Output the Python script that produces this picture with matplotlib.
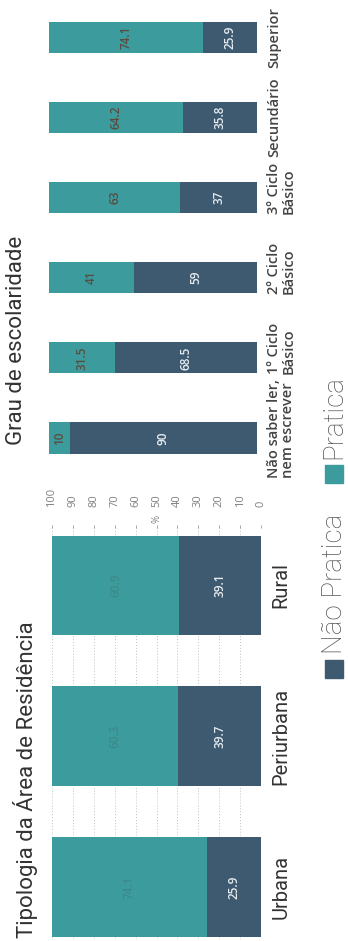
import matplotlib
matplotlib.use("Agg")
import matplotlib.pyplot as plt
from matplotlib.patches import Rectangle

plt.rcParams['font.family'] = ['Open Sans', 'DejaVu Sans']

# Residence area typology
area_labels = ["Urbana", "Periurbana", "Rural"]
area_nao = [25.9, 39.7, 39.1]
area_pratica = [74.1, 60.3, 60.9]

# Education level
edu_labels = ["Não saber ler,\nnem escrever", "1º Ciclo\nBásico", "2º Ciclo\nBásico",
              "3º Ciclo\nBásico", "Secundário", "Superior"]
edu_nao = [90, 68.5, 59, 37, 35.8, 25.9]
edu_pratica = [10, 31.5, 41, 63, 64.2, 74.1]

pct_ticks = [0, 10, 20, 30, 40, 50, 60, 70, 80, 90, 100]

C_NAO = "#3e5a70"
C_PRA = "#3c9c9d"
ROBOTO = ['Roboto', 'DejaVu Sans']

W, H = 348, 941
fig = plt.figure(figsize=(W / 100, H / 100), dpi=100)
fig.patch.set_facecolor("white")


def fx(px):
    return px / W


def fy(py):
    return 1 - py / H


def fmt(v):
    return f"{v:g}"


# ---- Tipologia da Área de Residência ----
ax1 = fig.add_axes([fx(52), fy(940), fx(261) - fx(52), fy(528) - fy(940)])
y1 = list(range(len(area_labels)))
ax1.barh(y1, area_nao, height=0.66, color=C_NAO, zorder=3)
ax1.barh(y1, area_pratica, left=area_nao, height=0.66, color=C_PRA, zorder=3)
ax1.set_xlim(100, 0)
ax1.set_ylim(-0.35, 2.38)
ax1.set_xticks(pct_ticks)
ax1.xaxis.tick_top()
ax1.tick_params(axis="x", length=2, width=0.6, color="#8a9aa8", pad=13,
                labelsize=8, labelcolor="#808080", labelrotation=90)
ax1.set_yticks([])
for s in ax1.spines.values():
    s.set_visible(False)
ax1.grid(axis="x", color="#b8c4cc", linestyle=(0, (1, 2)), linewidth=0.7, zorder=0)
ax1.text(50, 1.012, "%", transform=ax1.get_xaxis_transform(), rotation=90,
         ha="center", va="bottom", fontsize=7, color="#808080")
for i, (n, p) in enumerate(zip(area_nao, area_pratica)):
    ax1.text(n / 2, i, fmt(n), rotation=90, ha="center", va="center",
             fontsize=8.5, fontweight="semibold", color="#e8eef2", zorder=4)
    ax1.text(n + p / 2, i, fmt(p), rotation=90, ha="center", va="center",
             fontsize=8.5, fontweight="semibold", color="#3d8a8b", zorder=4)
    ax1.text(1.05, i, area_labels[i], transform=ax1.get_yaxis_transform(),
             rotation=90, ha="left", va="center", fontsize=14.5,
             family=ROBOTO, color="#333333")
fig.text(fx(26), fy(780), "Tipologia da Área de Residência", rotation=90,
         ha="center", va="center", fontsize=16, family=ROBOTO,
         color="#333333")

# ---- Grau de escolaridade ----
ax2 = fig.add_axes([fx(49), fy(460), fx(257) - fx(49), fy(10) - fy(460)])
y2 = list(range(len(edu_labels)))
ax2.barh(y2, edu_nao, height=0.39, color=C_NAO, zorder=3)
ax2.barh(y2, edu_pratica, left=edu_nao, height=0.39, color=C_PRA, zorder=3)
ax2.set_xlim(100, 0)
ax2.set_ylim(-0.275, 5.34)
ax2.set_xticks([])
ax2.set_yticks([])
for s in ax2.spines.values():
    s.set_visible(False)
for i, (n, p) in enumerate(zip(edu_nao, edu_pratica)):
    ax2.text(n / 2, i, fmt(n), rotation=90, ha="center", va="center",
             fontsize=8.5, fontweight="semibold", color="#e8eef2", zorder=4)
    ax2.text(n + p / 2, i, fmt(p), rotation=90, ha="center", va="center",
             fontsize=8.5, fontweight="semibold", color="#5a4c40", zorder=4)
    shift = 0.12 if "\n" in edu_labels[i] else 0.0
    ax2.text(1.05, i + shift, edu_labels[i], transform=ax2.get_yaxis_transform(),
             rotation=90, ha="left", va="center", fontsize=10.5,
             fontweight="semibold", multialignment="left", color="#444444",
             linespacing=1.0)
fig.text(fx(17), fy(340), "Grau de escolaridade", rotation=90,
         ha="center", va="center", fontsize=16, family=ROBOTO,
         color="#333333")

# ---- Legend ----
fig.patches.append(Rectangle((fx(325), fy(678)), fx(18), fy(660) - fy(678),
                             transform=fig.transFigure, color=C_NAO))
fig.text(fx(334), fy(654), "Não Pratica", rotation=90, ha="center", va="bottom",
         fontsize=20, family=ROBOTO, color="#555555", fontweight="light")
fig.patches.append(Rectangle((fx(325), fy(483)), fx(18), fy(465) - fy(483),
                             transform=fig.transFigure, color=C_PRA))
fig.text(fx(334), fy(459), "Pratica", rotation=90, ha="center", va="bottom",
         fontsize=20, family=ROBOTO, color="#555555", fontweight="light")

fig.savefig("out.png", dpi=100, facecolor="white")
